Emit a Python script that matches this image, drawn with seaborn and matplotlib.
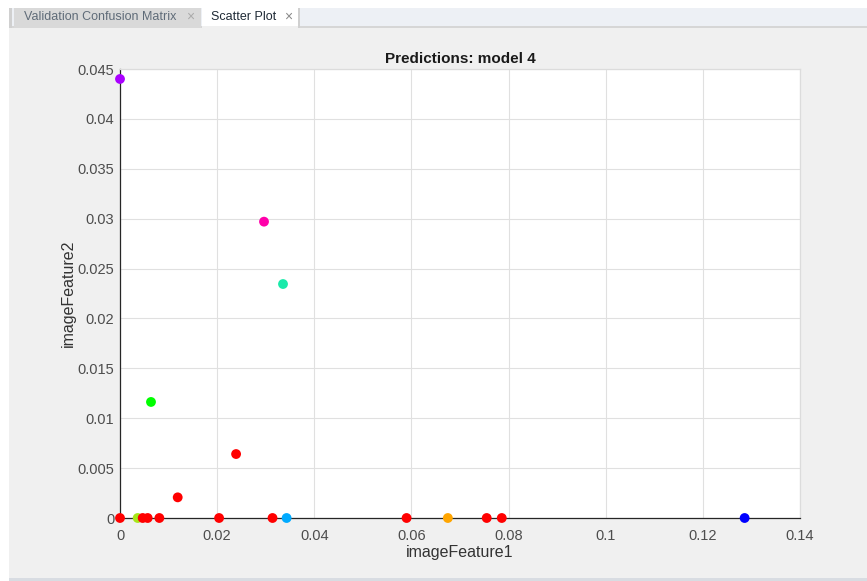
import matplotlib
matplotlib.use("Agg")
import matplotlib.pyplot as plt
import seaborn as sns
import pandas as pd
from matplotlib.patches import Rectangle

# Data
feature1 = [0.0, 0.02965, 0.03356, 0.00638, 0.0239, 0.01188,
            0.0, 0.00364, 0.00467, 0.0057, 0.0081, 0.0204, 0.0314,
            0.0343, 0.0590, 0.0675, 0.0755, 0.0786, 0.1286]
feature2 = [0.0440, 0.0297, 0.02345, 0.01163, 0.00641, 0.00207,
            0, 0, 0, 0, 0, 0, 0, 0, 0, 0, 0, 0, 0]
pred_class = ["c9", "c8", "c7", "c6", "c1", "c1",
              "c1", "c2", "c1", "c1", "c1", "c1", "c1",
              "c3", "c1", "c4", "c1", "c1", "c5"]
class_colors = {"c1": "#ff0000", "c2": "#a6e619", "c3": "#00aaff", "c4": "#ffa500",
                "c5": "#0000ff", "c6": "#00ff00", "c7": "#1aeaaa", "c8": "#ff00aa",
                "c9": "#aa00ff"}
x_ticks = [0, 0.02, 0.04, 0.06, 0.08, 0.1, 0.12, 0.14]
x_ticklabels = ["0", "0.02", "0.04", "0.06", "0.08", "0.1", "0.12", "0.14"]
y_ticks = [0, 0.005, 0.01, 0.015, 0.02, 0.025, 0.03, 0.035, 0.04, 0.045]
y_ticklabels = ["0", "0.005", "0.01", "0.015", "0.02", "0.025", "0.03", "0.035", "0.04", "0.045"]

df = pd.DataFrame({"imageFeature1": feature1, "imageFeature2": feature2, "cls": pred_class})

sns.set_style("white")
plt.rcParams["font.family"] = ["Liberation Sans", "DejaVu Sans"]

W, H = 867, 581
fig = plt.figure(figsize=(W / 100, H / 100), dpi=100)
fig.patch.set_facecolor("white")

def rect(x0, y0, x1, y1, color):
    fig.patches.append(Rectangle((x0 / W, 1 - y1 / H), (x1 - x0) / W, (y1 - y0) / H,
                                 transform=fig.transFigure, facecolor=color,
                                 edgecolor="none", zorder=-10))

# panel and tab strip
rect(9, 28, W, 578, "#f0f0f0")
rect(9, 578, W, 581, "#d8dce2")
rect(9, 8, W, 28, "#edf0f5")
rect(9, 26, W, 28, "#d6d6d6")
rect(9, 8, 12, 28, "#d0d0d0")
rect(14, 8, 201, 28, "#d9d9d9")
rect(202, 8, 298, 28, "#ffffff")
rect(202, 26, 298, 28, "#f0f0f0")
rect(298, 8, 300, 28, "#d0d0d0")
fig.text(24 / W, 1 - 17 / H, "Validation Confusion Matrix", fontsize=9, color="#5f6b78",
         va="center", ha="left")
fig.text(186 / W, 1 - 17 / H, "×", fontsize=10, color="#aaaaaa", va="center", ha="left")
fig.text(211 / W, 1 - 17 / H, "Scatter Plot", fontsize=9, color="#1f2a36",
         va="center", ha="left")
fig.text(284 / W, 1 - 17 / H, "×", fontsize=10, color="#888888", va="center", ha="left")

ax = fig.add_axes([120 / W, 1 - 518 / H, 680 / W, 449 / H])
ax.set_facecolor("white")
sns.scatterplot(data=df, x="imageFeature1", y="imageFeature2", hue="cls",
                palette=class_colors, s=50, edgecolor="none", legend=False,
                ax=ax, zorder=3, clip_on=False)
ax.set_xlim(0, 0.14)
ax.set_ylim(0, 0.045)
ax.set_xticks(x_ticks)
ax.set_xticklabels(x_ticklabels)
ax.set_yticks(y_ticks)
ax.set_yticklabels(y_ticklabels)
ax.grid(True, color="#e0e0e0", linewidth=0.8)
ax.set_axisbelow(True)
ax.tick_params(direction="in", length=5, width=0.8, colors="#262626",
               labelsize=10.5, labelcolor="#4d4d4d")
ax.tick_params(axis="x", pad=8)
ax.tick_params(axis="y", pad=4)
for side in ["left", "bottom"]:
    ax.spines[side].set_color("#262626")
    ax.spines[side].set_linewidth(0.9)
for side in ["top", "right"]:
    ax.spines[side].set_color("#dcdcdc")
    ax.spines[side].set_linewidth(0.9)
ax.set_xlabel("imageFeature1", fontsize=11.5, color="#333333", labelpad=1)
ax.set_ylabel("imageFeature2", fontsize=11.5, color="#333333", labelpad=1)
ax.set_title("Predictions: model 4", fontsize=11, fontweight="bold", color="#1a1a1a", pad=4)

fig.savefig("out.png", dpi=100, facecolor=fig.get_facecolor())
